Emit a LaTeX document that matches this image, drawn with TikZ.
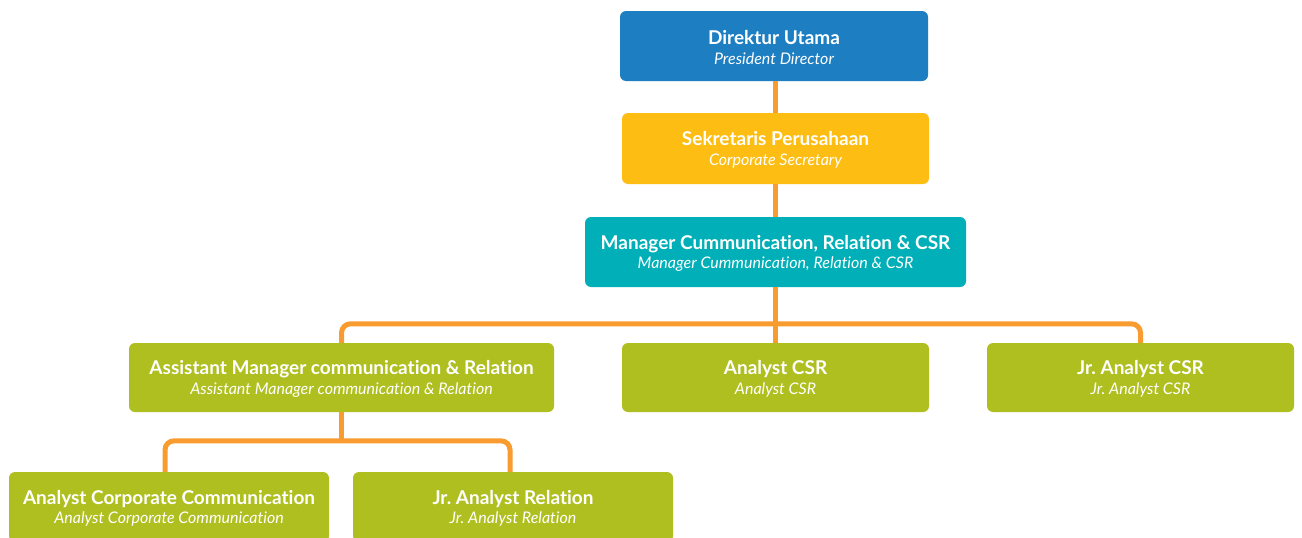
\documentclass[tikz,border=0pt]{standalone}
\usepackage{fontspec}
\setmainfont{Lato}[Ligatures={NoCommon}]
\definecolor{cblue}{HTML}{1D7EC2}
\definecolor{cyellow}{HTML}{FDBD13}
\definecolor{cteal}{HTML}{00AFB7}
\definecolor{cgreen}{HTML}{AFBF20}
\definecolor{corange}{HTML}{F89C30}
\frenchspacing
\tikzset{
  box/.style={rectangle, rounded corners=6pt, draw=none, inner sep=0pt},
  boxtext/.style={text=white, align=center, inner sep=0pt, font=\fontsize{19}{21}\selectfont},
  conn/.style={draw=corange, line width=5pt, rounded corners=9pt},
}
% #1 name, #2 position, #3 width, #4 height, #5 colour, #6 bold line, #7 italic line
\newcommand{\orgbox}[7]{%
  \node[box, fill=#5, minimum width=#3pt, minimum height=#4pt] (#1) at #2 {};
  \node[boxtext] (#1-t) at ([yshift=-1.5pt]#1.center) {{\bfseries #6}\\[-1.5pt]{\fontsize{16}{18}\selectfont\itshape #7}};
}
\begin{document}
\begin{tikzpicture}[x=1pt,y=-1pt]
\useasboundingbox (0,0) rectangle (1302,538);
\clip (0,0) rectangle (1302,538);
\fill[white] (0,0) rectangle (1302,538);
\orgbox{dir}{(774,46)}{308}{70}{cblue}{Direktur Utama}{President Director}
\orgbox{sek}{(775.5,148.5)}{307}{71}{cyellow}{Sekretaris Perusahaan}{Corporate Secretary}
\orgbox{mgr}{(775.5,252)}{381}{70}{cteal}{Manager Cummunication, Relation \& CSR}{Manager Cummunication, Relation \& CSR}
\orgbox{asst}{(341.5,377.5)}{425}{69}{cgreen}{Assistant Manager communication \& Relation}{Assistant Manager communication \& Relation}
\orgbox{acsr}{(775.5,377.5)}{307}{69}{cgreen}{Analyst CSR}{Analyst CSR}
\orgbox{jcsr}{(1140.5,377.5)}{307}{69}{cgreen}{Jr. Analyst CSR}{Jr. Analyst CSR}
\orgbox{acc}{(169,507)}{320}{70}{cgreen}{Analyst Corporate Communication}{Analyst Corporate Communication}
\orgbox{jar}{(513,507)}{320}{70}{cgreen}{Jr. Analyst Relation}{Jr. Analyst Relation}
\draw[conn] (dir.south -| mgr.south) -- (sek.north -| mgr.south);
\draw[conn] (sek.south -| mgr.south) -- (mgr.north);
\draw[conn] (mgr.south) -- (acsr.north);
\draw[conn] (asst.north) -- ++(0,-19) -| (jcsr.north);
\draw[conn] (asst.south) -- ++(0,29);
\draw[conn] ([xshift=-4pt]acc.north) -- ++(0,-31) -| ([xshift=-3pt]jar.north);
\end{tikzpicture}
\end{document}
